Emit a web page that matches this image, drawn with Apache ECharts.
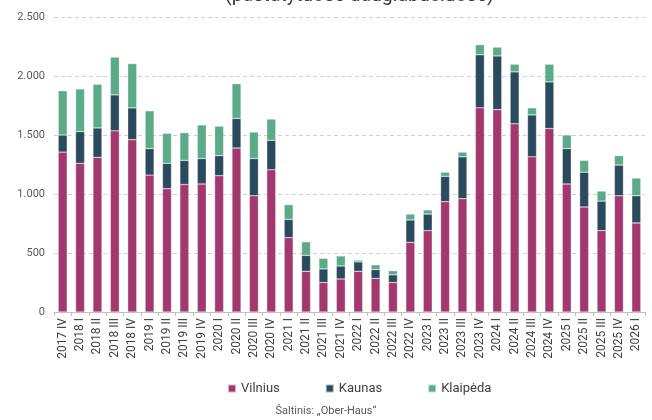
<!DOCTYPE html>
<html>
<head>
<meta charset="utf-8">
<script src="https://cdn.jsdelivr.net/npm/echarts@6/dist/echarts.min.js"></script>
<style>html,body{margin:0;padding:0;background:#fff;}#c{width:652px;height:420px;}</style>
</head>
<body>
<div id="c"></div>
<script>
const categories = ["2017 IV","2018 I","2018 II","2018 III","2018 IV","2019 I","2019 II","2019 III","2019 IV","2020 I","2020 II","2020 III","2020 IV","2021 I","2021 II","2021 III","2021 IV","2022 I","2022 II","2022 III","2022 IV","2023 I","2023 II","2023 III","2023 IV","2024 I","2024 II","2024 III","2024 IV","2025 I","2025 II","2025 III","2025 IV","2026 I"];
const vilnius = [1355,1260,1310,1535,1460,1160,1045,1080,1085,1155,1390,985,1205,630,345,250,280,345,285,250,590,690,935,960,1730,1715,1595,1315,1555,1085,890,690,985,755];
const kaunas = [145,270,250,305,270,225,215,205,215,170,250,315,250,155,135,115,110,80,75,65,190,140,215,355,450,455,440,355,395,300,295,250,260,230];
const klaipeda = [375,360,370,320,375,320,255,235,285,250,295,225,180,125,115,90,85,15,40,35,50,35,35,40,85,75,65,60,150,115,100,85,80,150];
const yTicks = [0,500,1000,1500,2000,2500];
const titleText = "(pastatytuose daugiabučiuose)";
const sourceText = "Šaltinis: „Ober-Haus“";

const FONT = "Roboto, 'Noto Sans', sans-serif";
const chart = echarts.init(document.getElementById('c'), null, {renderer:'canvas'});
const mk = (name, data, color) => ({
  name, type:'bar', stack:'t', data, barWidth:9,
  itemStyle:{color, borderColor:'rgba(255,255,255,0.6)', borderWidth:0.5},
  emphasis:{disabled:true}
});
chart.setOption({
  animation:false,
  textStyle:{fontFamily:FONT},
  grid:{left:54, right:7, top:17, bottom:108, containLabel:false},
  graphic:[
    {type:'text', left:225, top:-14, style:{text:titleText, font:"19.5px "+FONT, fill:'#3a3a3a'}},
    {type:'text', left:'center', top:406, style:{text:sourceText, font:"11px "+FONT, fill:'#595959'}}
  ],
  legend:{
    left:222, top:377, itemWidth:8, itemHeight:8, itemGap:45, icon:'rect',
    textStyle:{fontSize:13, color:'#404040', fontFamily:FONT},
    data:['Vilnius','Kaunas','Klaipėda']
  },
  xAxis:{
    type:'category', data:categories,
    axisLine:{lineStyle:{color:'#bfbfbf'}},
    axisTick:{show:true, alignWithLabel:false, length:4, lineStyle:{color:'#bfbfbf'}},
    axisLabel:{rotate:90, interval:0, fontSize:12, color:'#404040', margin:6}
  },
  yAxis:{
    type:'value', min:0, max:2500, interval:500,
    axisLine:{show:false}, axisTick:{show:false},
    splitLine:{lineStyle:{color:'#d0d0d0', type:[4,3]}},
    axisLabel:{fontSize:11, color:'#595959', margin:9,
      formatter:v => yTicks.includes(v) ? String(v).replace(/\B(?=(\d{3})+(?!\d))/g,'.') : ''}
  },
  series:[
    mk('Vilnius', vilnius, '#A3386E'),
    mk('Kaunas', kaunas, '#2A4A5E'),
    mk('Klaipėda', klaipeda, '#5BAA88')
  ]
});
</script>
</body>
</html>
